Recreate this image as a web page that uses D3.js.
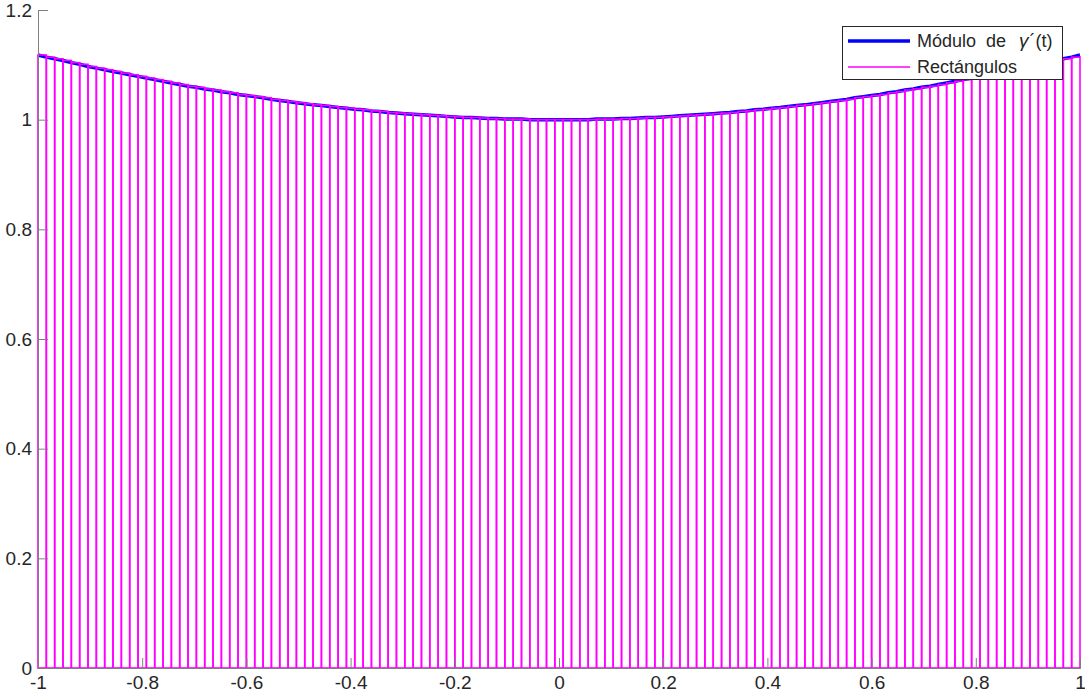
<!DOCTYPE html>
<html>
<head>
<meta charset="utf-8">
<script src="https://cdn.jsdelivr.net/npm/d3@7/dist/d3.min.js"></script>
<style>
  html, body { margin: 0; padding: 0; background: #ffffff; }
  svg { display: block; }
</style>
</head>
<body>
<svg id="chart" width="1085" height="696"></svg>
<script>
// ---- data ----
// sample points t (125 equal sub-intervals on [-1, 1])
const tPoints = [
 -1.000,-0.984,-0.968,-0.952,-0.936,-0.920,-0.904,-0.888,-0.872,-0.856,-0.840,-0.824,-0.808,-0.792,-0.776,-0.760,
 -0.744,-0.728,-0.712,-0.696,-0.680,-0.664,-0.648,-0.632,-0.616,-0.600,-0.584,-0.568,-0.552,-0.536,-0.520,-0.504,
 -0.488,-0.472,-0.456,-0.440,-0.424,-0.408,-0.392,-0.376,-0.360,-0.344,-0.328,-0.312,-0.296,-0.280,-0.264,-0.248,
 -0.232,-0.216,-0.200,-0.184,-0.168,-0.152,-0.136,-0.120,-0.104,-0.088,-0.072,-0.056,-0.040,-0.024,-0.008,
  0.008, 0.024, 0.040, 0.056, 0.072, 0.088, 0.104, 0.120, 0.136, 0.152, 0.168, 0.184, 0.200, 0.216, 0.232, 0.248,
  0.264, 0.280, 0.296, 0.312, 0.328, 0.344, 0.360, 0.376, 0.392, 0.408, 0.424, 0.440, 0.456, 0.472, 0.488, 0.504,
  0.520, 0.536, 0.552, 0.568, 0.584, 0.600, 0.616, 0.632, 0.648, 0.664, 0.680, 0.696, 0.712, 0.728, 0.744, 0.760,
  0.776, 0.792, 0.808, 0.824, 0.840, 0.856, 0.872, 0.888, 0.904, 0.920, 0.936, 0.952, 0.968, 0.984, 1.000
];
// |gamma'(t)| at those points
const moduloValues = [
 1.118,1.114,1.111,1.108,1.104,1.101,1.097,1.094,1.091,1.088,1.085,1.082,1.079,1.076,1.073,1.070,
 1.067,1.064,1.061,1.059,1.056,1.054,1.051,1.049,1.046,1.044,1.042,1.040,1.037,1.035,1.033,1.031,
 1.029,1.027,1.026,1.024,1.022,1.021,1.019,1.018,1.016,1.015,1.013,1.012,1.011,1.010,1.009,1.008,
 1.007,1.006,1.005,1.004,1.004,1.003,1.002,1.002,1.001,1.001,1.001,1.000,1.000,1.000,1.000,
 1.000,1.000,1.000,1.000,1.001,1.001,1.001,1.002,1.002,1.003,1.004,1.004,1.005,1.006,1.007,1.008,
 1.009,1.010,1.011,1.012,1.013,1.015,1.016,1.018,1.019,1.021,1.022,1.024,1.026,1.027,1.029,1.031,
 1.033,1.035,1.037,1.040,1.042,1.044,1.046,1.049,1.051,1.054,1.056,1.059,1.061,1.064,1.067,1.070,
 1.073,1.076,1.079,1.082,1.085,1.088,1.091,1.094,1.097,1.101,1.104,1.108,1.111,1.114,1.118
];
// rectangle heights (left end of each sub-interval)
const rectHeights = [
 1.118,1.114,1.111,1.108,1.104,1.101,1.097,1.094,1.091,1.088,1.085,1.082,1.079,1.076,1.073,1.070,
 1.067,1.064,1.061,1.059,1.056,1.054,1.051,1.049,1.046,1.044,1.042,1.040,1.037,1.035,1.033,1.031,
 1.029,1.027,1.026,1.024,1.022,1.021,1.019,1.018,1.016,1.015,1.013,1.012,1.011,1.010,1.009,1.008,
 1.007,1.006,1.005,1.004,1.004,1.003,1.002,1.002,1.001,1.001,1.001,1.000,1.000,1.000,1.000,
 1.000,1.000,1.000,1.000,1.001,1.001,1.001,1.002,1.002,1.003,1.004,1.004,1.005,1.006,1.007,1.008,
 1.009,1.010,1.011,1.012,1.013,1.015,1.016,1.018,1.019,1.021,1.022,1.024,1.026,1.027,1.029,1.031,
 1.033,1.035,1.037,1.040,1.042,1.044,1.046,1.049,1.051,1.054,1.056,1.059,1.061,1.064,1.067,1.070,
 1.073,1.076,1.079,1.082,1.085,1.088,1.091,1.094,1.097,1.101,1.104,1.108,1.111,1.114
];
const xTickValues = [-1, -0.8, -0.6, -0.4, -0.2, 0, 0.2, 0.4, 0.6, 0.8, 1];
const xTickLabels = ["-1", "-0.8", "-0.6", "-0.4", "-0.2", "0", "0.2", "0.4", "0.6", "0.8", "1"];
const yTickValues = [0, 0.2, 0.4, 0.6, 0.8, 1, 1.2];
const yTickLabels = ["0", "0.2", "0.4", "0.6", "0.8", "1", "1.2"];
// legend label pieces: [plain text, italic symbol, plain text]
const legendLabels = [["Módulo  de  ", "γ", "´(t)"], ["Rectángulos", "", ""]];

// ---- drawing ----
const svg = d3.select("#chart");
const FONT = "'Liberation Sans', Arial, Helvetica, sans-serif";
const plotLeft = 38, plotRight = 1080, plotTop = 10, plotBottom = 668;
const x = d3.scaleLinear().domain([-1, 1]).range([plotLeft, plotRight]);
const y = d3.scaleLinear().domain([0, 1.2]).range([plotBottom, plotTop]);

const AXIS_COLOR = "#808080";
const TEXT_COLOR = "#262626";

// curve
const line = d3.line().x((d, i) => x(tPoints[i])).y(d => y(d));
svg.append("path")
  .datum(moduloValues)
  .attr("d", line)
  .attr("fill", "none")
  .attr("stroke", "#0000ff")
  .attr("stroke-width", 3.5)
  .attr("stroke-linejoin", "round");

// rectangles
svg.append("g").selectAll("rect")
  .data(rectHeights)
  .join("rect")
  .attr("x", (d, i) => x(tPoints[i]))
  .attr("y", d => y(d))
  .attr("width", (d, i) => x(tPoints[i + 1]) - x(tPoints[i]))
  .attr("height", d => y(0) - y(d))
  .attr("fill", "none")
  .attr("stroke", "#ff00ff")
  .attr("stroke-width", 1.6);

// axes
const xAxis = d3.axisBottom(x)
  .tickValues(xTickValues)
  .tickFormat((d, i) => xTickLabels[i])
  .tickSizeInner(-10)
  .tickSizeOuter(0)
  .tickPadding(8);
const gx = svg.append("g").attr("transform", `translate(0,${plotBottom})`).call(xAxis);

const yAxis = d3.axisLeft(y)
  .tickValues(yTickValues)
  .tickFormat((d, i) => yTickLabels[i])
  .tickSizeInner(-10)
  .tickSizeOuter(0)
  .tickPadding(6);
const gy = svg.append("g").attr("transform", `translate(${plotLeft},0)`).call(yAxis);

[gx, gy].forEach(g => {
  g.select(".domain").attr("stroke", AXIS_COLOR).attr("stroke-width", 1);
  g.selectAll(".tick line").attr("stroke", AXIS_COLOR).attr("stroke-width", 1);
  g.selectAll(".tick text")
    .attr("fill", TEXT_COLOR)
    .style("font-family", FONT)
    .style("font-size", "19px");
});

// legend
const lg = svg.append("g");
lg.append("rect")
  .attr("x", 842.5).attr("y", 26.5)
  .attr("width", 220).attr("height", 53)
  .attr("fill", "#ffffff")
  .attr("stroke", "#262626")
  .attr("stroke-width", 1);
const legendColors = ["#0000ff", "#ff00ff"];
const legendWidths = [3.5, 1.6];
const legendY = [41, 67];
legendLabels.forEach((parts, i) => {
  lg.append("line")
    .attr("x1", 848).attr("x2", 910)
    .attr("y1", legendY[i]).attr("y2", legendY[i])
    .attr("stroke", legendColors[i])
    .attr("stroke-width", legendWidths[i]);
  const t = lg.append("text")
    .attr("x", 917).attr("y", legendY[i])
    .attr("dy", "0.35em")
    .attr("fill", TEXT_COLOR)
    .style("font-family", FONT)
    .style("font-size", "18px")
    .style("white-space", "pre")
    .attr("xml:space", "preserve");
  t.append("tspan").text(parts[0]);
  if (parts[1]) {
    t.append("tspan").attr("dx", 3).style("font-style", "italic").style("font-size", "19px").text(parts[1]);
    t.append("tspan").attr("dx", 1).text(parts[2]);
  }
});
</script>
</body>
</html>
